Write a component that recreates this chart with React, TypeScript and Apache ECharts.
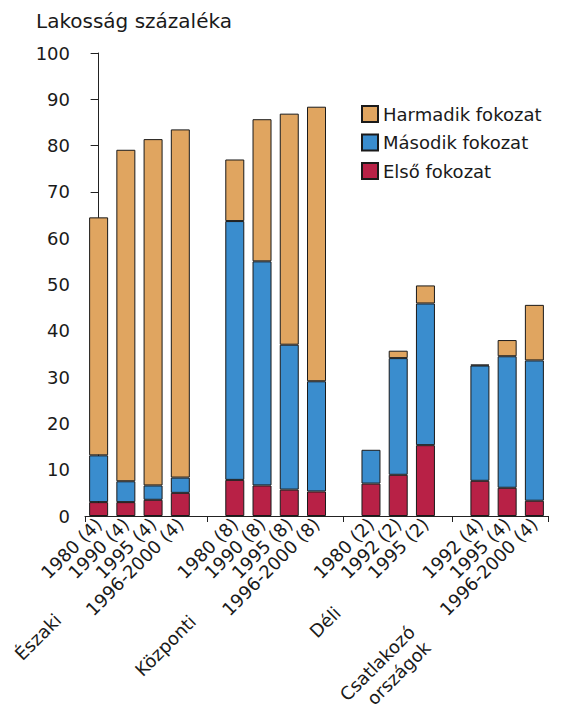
import React, { useEffect, useRef } from "react";
import * as echarts from "echarts";

const yearLabels = [
  "1980 (4)", "1990 (4)", "1995 (4)", "1996-2000 (4)", "",
  "1980 (8)", "1990 (8)", "1995 (8)", "1996-2000 (8)", "",
  "1980 (2)", "1992 (2)", "1995 (2)", "",
  "1992 (4)", "1995 (4)", "1996-2000 (4)",
];

const groupNames = ["Északi", "Központi", "Déli", "Csatlakozó\nországok"];
// category index under which each group name is anchored
const groupAnchors = [1, 6, 11, 15];

const elsoFokozat = [3.0, 3.0, 3.5, 5.0, null, 7.8, 6.6, 5.7, 5.3, null, 7.0, 8.9, 15.3, null, 7.6, 6.1, 3.3];
const masodikFokozat = [10.1, 4.5, 3.1, 3.3, null, 55.9, 48.4, 31.3, 23.8, null, 7.3, 25.2, 30.6, null, 24.9, 28.4, 30.3];
const harmadikFokozat = [51.4, 71.6, 74.8, 75.2, null, 13.3, 30.7, 49.9, 59.3, null, null, 1.6, 3.9, null, 0.2, 3.5, 12.0];

const yTicks = { min: 0, max: 100, interval: 10 };
const groupBoundaries = [-0.5, 4, 9, 13, 16.5];

const FONT = "DejaVu Sans";
const TXT = "#1a1a1a";

export default function App() {
  const ref = useRef<HTMLDivElement>(null);
  useEffect(() => {
    if (!ref.current) return;
    const chart = echarts.init(ref.current, null, { renderer: "svg" });

    const groupPads: number[][] = [
      [3, 96, 0, 0],
      [0, 98, 3, 0],
      [2, 86, 0, 0],
      [4, 124, 0, 0],
    ];
    const groupData = yearLabels.map((_, i) => {
      const g = groupAnchors.indexOf(i);
      if (g < 0) return { value: "" };
      return {
        value: groupNames[g],
        textStyle: { padding: groupPads[g], align: "right" },
      };
    });

    const border = { borderColor: "#1a1a1a", borderWidth: 1 };
    chart.setOption({
      animation: false,
      textStyle: { fontFamily: FONT, color: TXT },
      title: {
        text: "Lakosság százaléka",
        left: 31,
        top: 6,
        textStyle: { fontFamily: FONT, fontSize: 20, fontWeight: "normal", color: TXT },
      },
      legend: {
        orient: "vertical",
        left: 356,
        top: 100,
        itemWidth: 16,
        itemHeight: 16,
        itemGap: 10.5,
        icon: "rect",
        data: ["Harmadik fokozat", "Második fokozat", "Első fokozat"],
        textStyle: { fontFamily: FONT, fontSize: 18, color: TXT },
      },
      grid: { left: 85, right: 17, top: 53, bottom: 189, containLabel: false, outerBoundsMode: "none" },
      xAxis: [
        {
          type: "category",
          data: yearLabels,
          position: "bottom",
          axisLine: { lineStyle: { color: "#222", width: 1 } },
          axisTick: { show: false },
          axisLabel: {
            interval: 0,
            rotate: 45,
            margin: 5,
            padding: [14, 0, 0, 0],
            fontFamily: FONT,
            fontSize: 18,
            color: TXT,
          },
        },
        {
          type: "category",
          data: groupData,
          position: "bottom",
          axisLine: { show: false },
          axisTick: { show: false },
          axisLabel: {
            interval: 0,
            rotate: 45,
            margin: 33,
            fontFamily: FONT,
            fontSize: 18,
            lineHeight: 22,
            color: TXT,
          },
        },
        {
          type: "value",
          min: -0.5,
          max: 16.5,
          position: "bottom",
          axisLine: { show: false },
          axisLabel: { show: false },
          splitLine: { show: false },
          axisTick: {
            show: true,
            length: 6,
            customValues: groupBoundaries,
            lineStyle: { color: "#222", width: 1 },
          },
        },
      ],
      yAxis: {
        type: "value",
        min: yTicks.min,
        max: yTicks.max,
        interval: yTicks.interval,
        axisLine: { show: true, lineStyle: { color: "#222", width: 1 } },
        axisTick: { show: true, length: 8, lineStyle: { color: "#222" } },
        splitLine: { show: false },
        axisLabel: { fontFamily: FONT, fontSize: 18, color: TXT, margin: 15 },
      },
      series: [
        {
          name: "Első fokozat",
          type: "bar",
          stack: "total",
          xAxisIndex: 0,
          barWidth: 19,
          data: elsoFokozat,
          itemStyle: { color: "#B82146", ...border },
        },
        {
          name: "Második fokozat",
          type: "bar",
          stack: "total",
          xAxisIndex: 0,
          barWidth: 19,
          data: masodikFokozat,
          itemStyle: { color: "#3A8DCE", ...border },
        },
        {
          name: "Harmadik fokozat",
          type: "bar",
          stack: "total",
          xAxisIndex: 0,
          barWidth: 19,
          data: harmadikFokozat,
          itemStyle: { color: "#E0A560", ...border },
        },
      ],
    });
    return () => chart.dispose();
  }, []);
  return <div ref={ref} style={{ width: 565, height: 705, position: "absolute", left: 0, top: 0 }} />;
}
